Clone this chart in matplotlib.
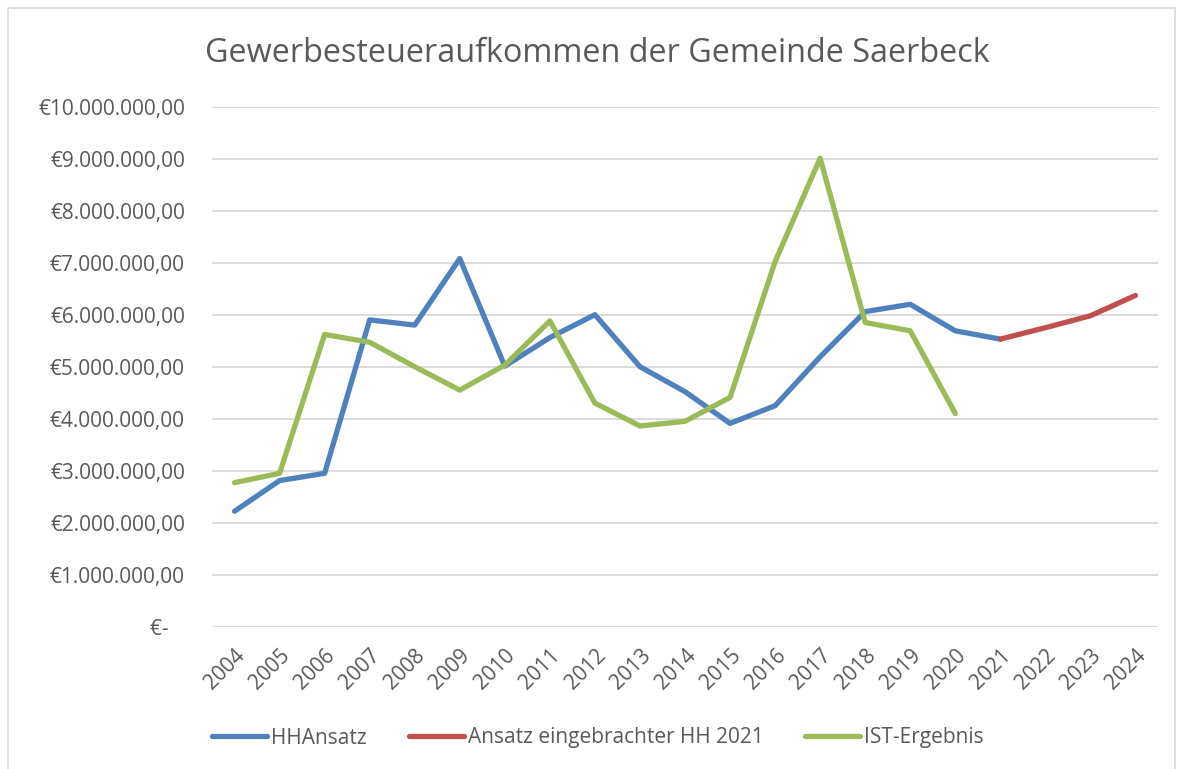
import matplotlib
matplotlib.use("Agg")
import matplotlib.pyplot as plt
import numpy as np
from matplotlib.patches import Rectangle
from matplotlib.ticker import FixedLocator, FuncFormatter

plt.rcParams['font.family'] = ['Open Sans', 'DejaVu Sans']

years = [str(y) for y in range(2004, 2025)]
hh_ansatz = [2.22, 2.81, 2.95, 5.90, 5.80, 7.08, 5.01, 5.56, 6.00, 5.00, 4.52, 3.91,
             4.25, 5.19, 6.06, 6.20, 5.69, 5.53, None, None, None]
ansatz_hh2021 = [None] * 17 + [5.53, 5.75, 5.98, 6.37]
ist_ergebnis = [2.77, 2.95, 5.62, 5.47, 5.00, 4.55, 5.03, 5.88, 4.30, 3.86, 3.95, 4.41,
                7.02, 9.01, 5.85, 5.69, 4.10, None, None, None, None]
series_names = ["HHAnsatz", "Ansatz eingebrachter HH 2021", "IST-Ergebnis"]
series_colors = ["#4F81BD", "#C0504D", "#9BBB59"]
title = "Gewerbesteueraufkommen der Gemeinde Saerbeck"

def to_arr(v):
    return np.array([np.nan if x is None else x * 1e6 for x in v], dtype=float)

W, H = 1183, 769
fig = plt.figure(figsize=(W / 100, H / 100), dpi=100)
fig.patch.set_facecolor("white")
fig.add_artist(Rectangle((8 / W, -0.01), (1175 - 8) / W, (H - 8) / H + 0.01, transform=fig.transFigure,
                         fill=False, edgecolor="#D9D9D9", linewidth=1.2))

ax = fig.add_axes([212 / W, 1 - 626.7 / H, (1158 - 212) / W, (626.7 - 106.7) / H])
x = np.arange(len(years))
for data, name, col in zip([hh_ansatz, ansatz_hh2021, ist_ergebnis], series_names, series_colors):
    ax.plot(x, to_arr(data), color=col, lw=3.8, label=name, solid_capstyle="round",
            solid_joinstyle="round", zorder=3)

ax.set_xlim(-0.5, len(years) - 0.5)
ax.set_ylim(0, 10e6)
ax.yaxis.set_major_locator(FixedLocator(np.arange(0, 10.5e6, 1e6)))

def fmt(v, pos):
    if v == 0:
        return "€-   "
    s = f"{v:,.2f}".replace(",", "X").replace(".", ",").replace("X", ".")
    return "€" + s

ax.yaxis.set_major_formatter(FuncFormatter(fmt))
ax.grid(axis="y", color="#D9D9D9", lw=1.3, zorder=0)
ax.set_axisbelow(True)
for s in ax.spines.values():
    s.set_visible(False)
ax.tick_params(axis="y", length=0, pad=19.5, labelsize=15, labelcolor="#595959")
ax.set_xticks(x)
ax.set_xticklabels(years, rotation=45, ha="right", va="top", rotation_mode="anchor")
ax.tick_params(axis="x", length=0, pad=13, labelsize=15, labelcolor="#595959")

fig.text(597 / W, 1 - 54 / H, title, ha="center", va="center", fontsize=23.3, color="#595959")

leg = fig.legend(loc="center", bbox_to_anchor=(598 / W, 1 - 738 / H), ncol=3, frameon=False,
                 fontsize=15, handlelength=2.64, handletextpad=0.2, columnspacing=2.0)
for t in leg.get_texts():
    t.set_color("#595959")

fig.savefig("out.png", dpi=100, facecolor="white")
